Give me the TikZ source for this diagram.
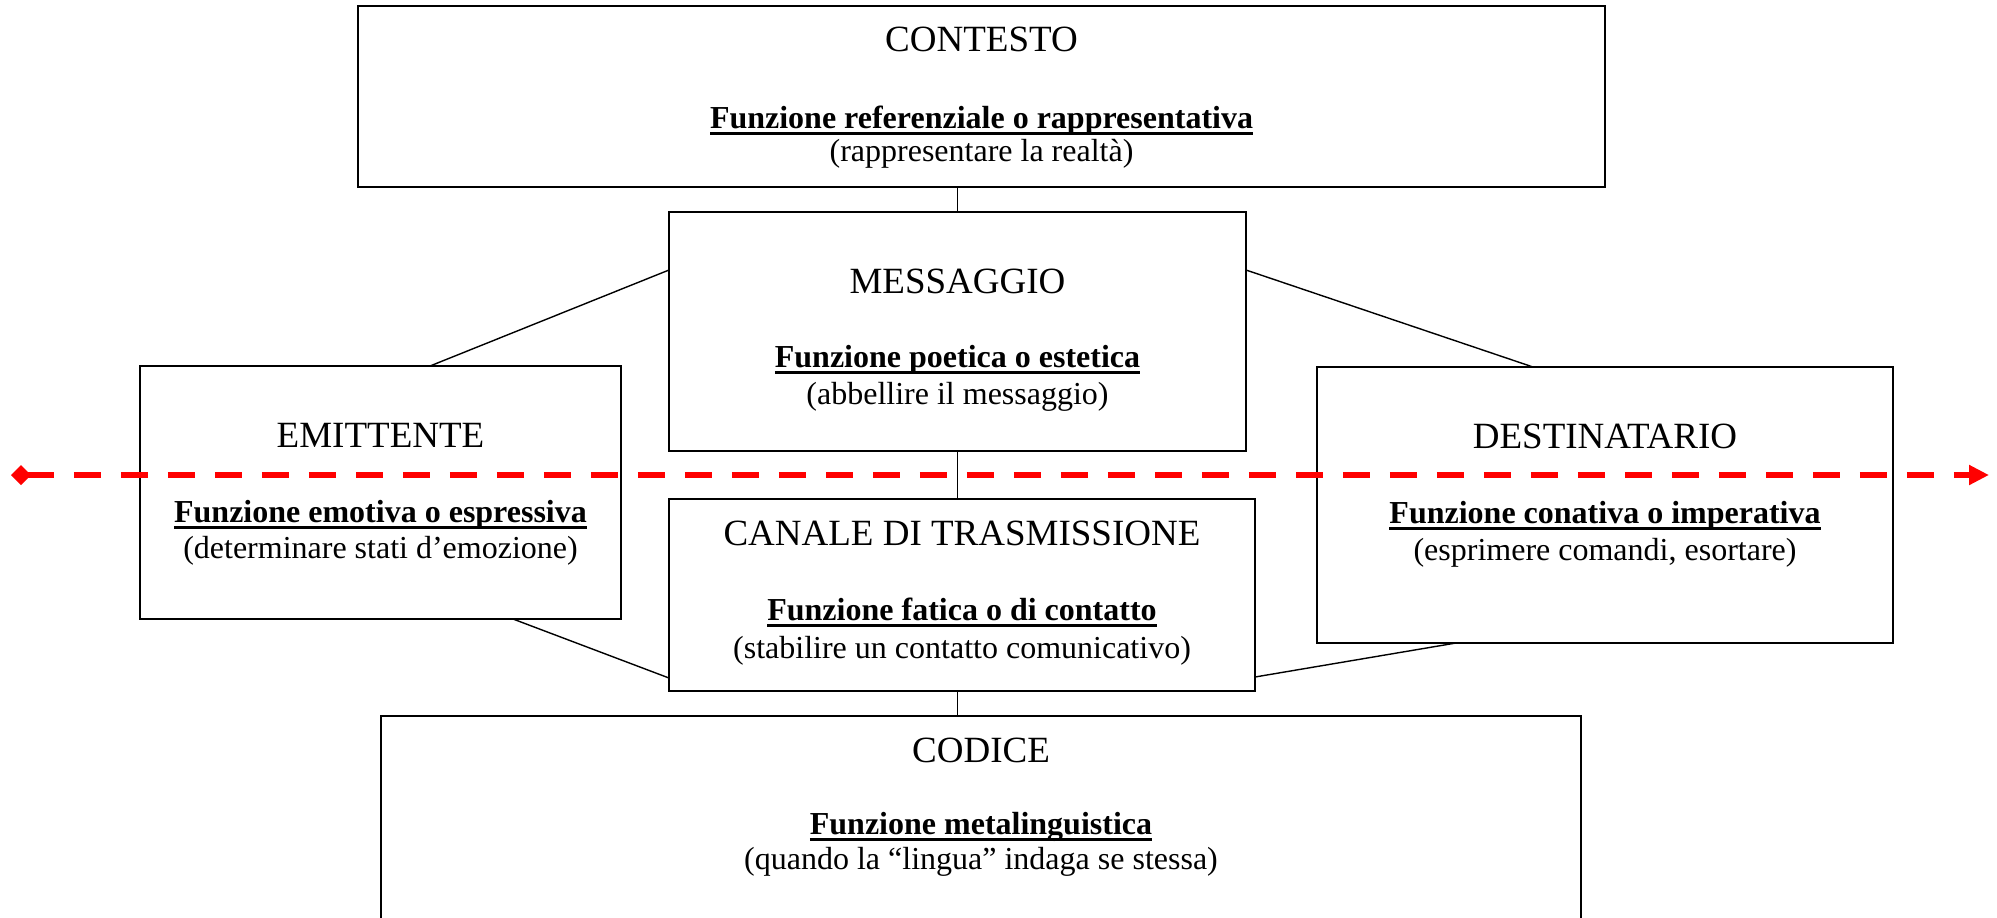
\documentclass[tikz,border=0pt]{standalone}
\usepackage{fontspec}
\setmainfont{Liberation Serif}
\usetikzlibrary{arrows.meta}
\newcommand\ulbold[1]{\setbox0\hbox{\bfseries #1}\rlap{\rule[-3.6pt]{\wd0}{1.4pt}}\box0}
\tikzset{
  box/.style={draw=black, line width=0.8pt, rectangle, anchor=north west, inner sep=0pt, outer sep=0pt, fill=white},
  ttl/.style={anchor=base, inner sep=0pt, font=\fontsize{18.5}{22}\selectfont},
  fnc/.style={anchor=base, inner sep=0pt, font=\fontsize{16}{19}\selectfont\bfseries},
  sub/.style={anchor=base, inner sep=0pt, font=\fontsize{16}{19}\selectfont},
  conn/.style={draw=black, line width=0.7pt},
  redline/.style={draw=red, line width=3pt, dash pattern=on 13.5pt off 10pt,
    {Diamond[length=10pt,width=10pt]}-{Triangle[length=10pt,width=9.5pt]}}
}
\begin{document}
\begin{tikzpicture}[x=0.5pt,y=-0.5pt]
\clip (0,0) rectangle (1997,917);
\fill[white] (0,0) rectangle (1997,917);
% boxes
\node (ctx) [box, minimum width=623.5pt, minimum height=90.5pt] at (358,6) {};
\node (msg) [box, minimum width=288.5pt, minimum height=119.5pt] at (669,212) {};
\node (emi) [box, minimum width=240.5pt, minimum height=126.5pt] at (140,366) {};
\node (dst) [box, minimum width=288pt, minimum height=138pt] at (1317,367) {};
\node (can) [box, minimum width=293pt, minimum height=96pt] at (669,499) {};
\node (cod) [box, minimum width=600pt, minimum height=130pt] at (381,716) {};
% connectors
\draw[conn] (msg.north) -- (msg.north |- ctx.south);
\draw[conn] (msg.south) -- (msg.south |- can.north);
\draw[conn] (can.south -| msg.south) -- (cod.north -| msg.south);
\draw[conn] ([yshift=-29pt]msg.north west) -- ([xshift=145pt]emi.north west);
\draw[conn] ([yshift=-29pt]msg.north east) -- ([xshift=108pt]dst.north west);
\draw[conn] ([xshift=186.5pt]emi.south west) -- ([yshift=-89.5pt]can.north west);
\draw[conn] ([xshift=69.5pt]dst.south west) -- ([yshift=-89pt]can.north east);
% texts
\node (ctxT) [ttl] at ([yshift=-22.5pt]ctx.north) {CONTESTO};
\node (ctxF) [fnc] at ([yshift=-61pt]ctx.north) {\ulbold{Funzione referenziale o rappresentativa}};
\node (ctxS) [sub] at ([yshift=-77.5pt]ctx.north) {(rappresentare la realtà)};
\node (msgT) [ttl] at ([yshift=-40.5pt]msg.north) {MESSAGGIO};
\node (msgF) [fnc] at ([yshift=-77.5pt]msg.north) {\ulbold{Funzione poetica o estetica}};
\node (msgS) [sub] at ([yshift=-96pt]msg.north) {(abbellire il messaggio)};
\node (emiT) [ttl] at ([yshift=-40.5pt]emi.north) {EMITTENTE};
\node (emiF) [fnc] at ([yshift=-78pt]emi.north) {\ulbold{Funzione emotiva o espressiva}};
\node (emiS) [sub] at ([yshift=-96pt]emi.north) {(determinare stati d’emozione)};
\node (dstT) [ttl] at ([yshift=-40.5pt]dst.north) {DESTINATARIO};
\node (dstF) [fnc] at ([yshift=-78pt]dst.north) {\ulbold{Funzione conativa o imperativa}};
\node (dstS) [sub] at ([yshift=-96.5pt]dst.north) {(esprimere comandi, esortare)};
\node (canT) [ttl] at ([yshift=-23pt]can.north) {CANALE DI TRASMISSIONE};
\node (canF) [fnc] at ([yshift=-60.5pt]can.north) {\ulbold{Funzione fatica o di contatto}};
\node (canS) [sub] at ([yshift=-79.5pt]can.north) {(stabilire un contatto comunicativo)};
\node (codT) [ttl] at ([yshift=-23pt]cod.north) {CODICE};
\node (codF) [fnc] at ([yshift=-59pt]cod.north) {\ulbold{Funzione metalinguistica}};
\node (codS) [sub] at ([yshift=-76.5pt]cod.north) {(quando la “lingua” indaga se stessa)};
% red dashed line
\coordinate (L) at (11,475);
\coordinate (R) at (1989,475);
\draw[redline] (L) -- (R);
\end{tikzpicture}
\end{document}
